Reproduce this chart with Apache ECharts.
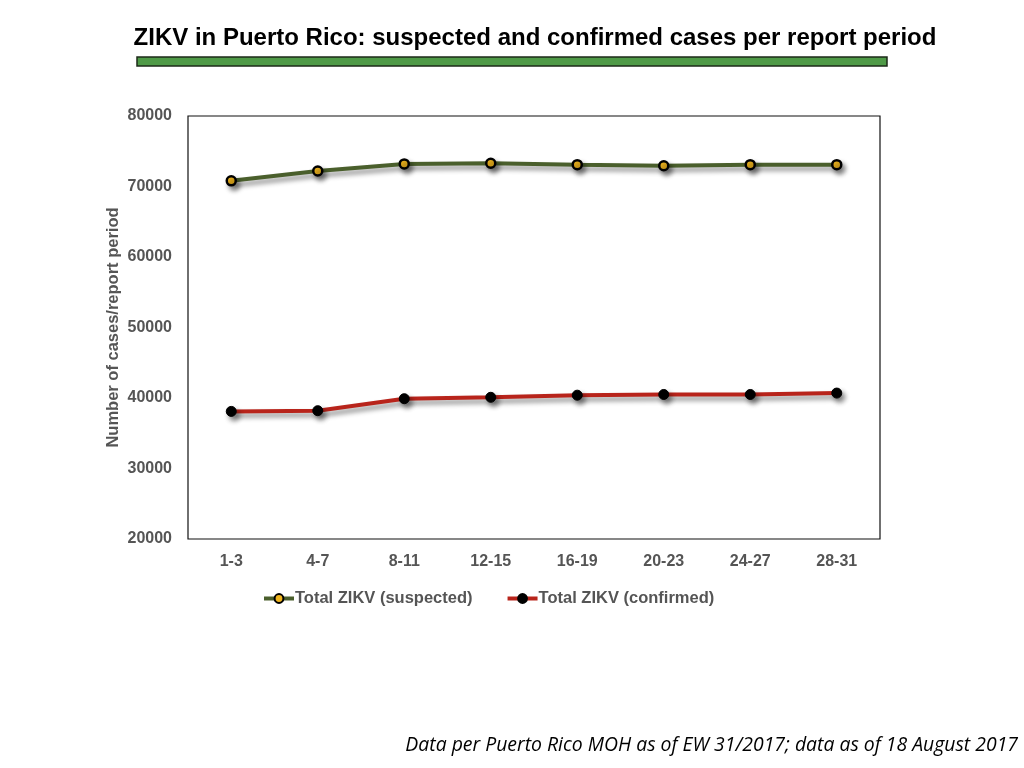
<!DOCTYPE html>
<html>
<head>
<meta charset="utf-8">
<script src="https://cdn.jsdelivr.net/npm/echarts@6/dist/echarts.min.js"></script>
<style>
html,body{margin:0;padding:0;background:#fff;}
#chart{width:1024px;height:768px;}
</style>
</head>
<body>
<div id="chart"></div>
<script>
const categories = ['1-3','4-7','8-11','12-15','16-19','20-23','24-27','28-31'];
const suspected = [70800, 72200, 73200, 73300, 73100, 72950, 73100, 73100];
const confirmed = [38100, 38200, 39900, 40100, 40400, 40500, 40500, 40700];
const yTicks = [20000, 30000, 40000, 50000, 60000, 70000, 80000];

const titleText = 'ZIKV in Puerto Rico: suspected and confirmed cases per report period';
const footText = 'Data per Puerto Rico MOH as of EW 31/2017; data as of 18 August 2017';

const chart = echarts.init(document.getElementById('chart'));
const sans = "'Liberation Sans', Arial, sans-serif";
const shadow = {shadowColor:'rgba(0,0,0,0.45)', shadowBlur:5, shadowOffsetX:3, shadowOffsetY:4};

chart.setOption({
  animation:false,
  backgroundColor:'#fff',
  title:{
    text:titleText,
    left:530, top:21, textAlign:'center',
    textStyle:{fontFamily:sans, fontWeight:'bold', fontSize:24, color:'#000'}
  },
  graphic:[
    {type:'rect', shape:{x:137,y:57,width:750,height:9}, style:{fill:'#4f9a47', stroke:'#1c2a18', lineWidth:1.5}},
    {type:'text', right:6, top:736, style:{text:footText, fontFamily:"'Open Sans','DejaVu Sans',sans-serif", fontStyle:'italic', fontSize:19.4, fill:'#000'}}
  ],
  legend:{
    top:590, left:262, padding:0,
    itemWidth:30, itemHeight:11, itemGap:33,
    lineStyle:{width:4},
    textStyle:{fontFamily:sans, fontWeight:'bold', fontSize:16.5, color:'#555', padding:[0,0,0,-4]},
    data:['Total ZIKV (suspected)','Total ZIKV (confirmed)']
  },
  grid:{left:188, right:144, top:116, bottom:229, show:true, borderColor:'#111', borderWidth:1.2, backgroundColor:'transparent'},
  xAxis:{
    type:'category', data:categories, boundaryGap:true,
    axisLine:{show:false}, axisTick:{show:false}, splitLine:{show:false},
    axisLabel:{margin:15, fontFamily:sans, fontWeight:'bold', fontSize:16, color:'#555'}
  },
  yAxis:{
    type:'value', min:yTicks[0], max:yTicks[yTicks.length-1], interval:10000,
    axisLine:{show:false}, axisTick:{show:false}, splitLine:{show:false},
    axisLabel:{margin:16, fontFamily:sans, fontWeight:'bold', fontSize:16, color:'#555', formatter:function(v){return String(v);}},
    name:'Number of cases/report period', nameLocation:'middle', nameGap:66, nameMoveOverlap:false,
    nameTextStyle:{fontFamily:sans, fontWeight:'bold', fontSize:16.5, color:'#555'}
  },
  series:[
    {
      name:'Total ZIKV (suspected)', type:'line', data:suspected,
      symbol:'circle', symbolSize:9,
      lineStyle:Object.assign({color:'#4a5f2c', width:4}, shadow),
      itemStyle:Object.assign({color:'#f0b51e', borderColor:'#000', borderWidth:2.5}, shadow),
      color:'#4a5f2c'
    },
    {
      name:'Total ZIKV (confirmed)', type:'line', data:confirmed,
      symbol:'circle', symbolSize:10,
      lineStyle:Object.assign({color:'#b8241b', width:4}, shadow),
      itemStyle:Object.assign({color:'#000', borderColor:'#000', borderWidth:1}, shadow),
      color:'#b8241b'
    }
  ]
});
</script>
</body>
</html>
